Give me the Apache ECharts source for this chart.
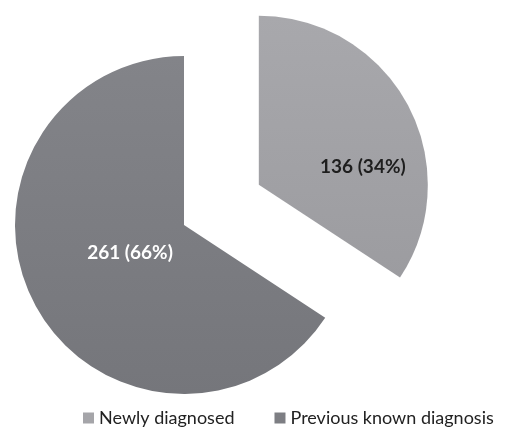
<!DOCTYPE html>
<html>
<head>
<meta charset="utf-8">
<script src="https://cdn.jsdelivr.net/npm/echarts@6/dist/echarts.min.js"></script>
<style>
html,body{margin:0;padding:0;background:#fff;}
#chart{width:511px;height:431px;}
</style>
</head>
<body>
<div id="chart"></div>
<script>
var categories = ['Newly diagnosed', 'Previous known diagnosis'];
var values = [136, 261];
var percents = ['34%', '66%'];

var chart = echarts.init(document.getElementById('chart'));
var colors = [
  new echarts.graphic.LinearGradient(0, 0, 0, 1, [{offset: 0, color: '#a8a8ac'}, {offset: 1, color: '#9c9ca0'}]),
  new echarts.graphic.LinearGradient(0, 0, 0, 1, [{offset: 0, color: '#838489'}, {offset: 1, color: '#75767b'}])
];
var labelColors = ['#1e1e1e', '#ffffff'];
var labelShift = [[27, 24], [23, -14]];
var data = categories.map(function (c, i) {
  return {
    name: c,
    value: values[i],
    selected: i === 0,
    itemStyle: {color: colors[i]},
    label: {color: labelColors[i]}
  };
});

chart.setOption({
  animation: false,
  legend: {
    bottom: -1,
    left: 78,
    itemWidth: 11,
    itemHeight: 11,
    itemGap: 40,
    icon: 'rect',
    textStyle: {fontFamily: 'Lato', fontSize: 18, color: '#222'},
    data: categories.map(function (c, i) {
      return {name: c, itemStyle: {color: ['#a5a5a9', '#7d7e83'][i]}};
    })
  },
  series: [{
    type: 'pie',
    center: [184, 225],
    radius: 169,
    startAngle: 90,
    clockwise: true,
    selectedMode: 'single',
    selectedOffset: 85,
    silent: true,
    label: {
      show: true,
      position: 'inside',
      fontFamily: 'Lato',
      fontWeight: 'bold',
      fontSize: 19,
      formatter: function (p) { return p.value + ' (' + percents[p.dataIndex] + ')'; }
    },
    labelLayout: function (p) {
      return {dx: labelShift[p.dataIndex][0], dy: labelShift[p.dataIndex][1]};
    },
    labelLine: {show: false},
    data: data
  }]
});
</script>
</body>
</html>
